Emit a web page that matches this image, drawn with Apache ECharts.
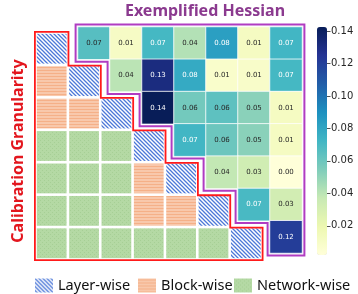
<!DOCTYPE html>
<html>
<head>
<meta charset="utf-8">
<script src="https://cdn.jsdelivr.net/npm/echarts@6/dist/echarts.min.js"></script>
<style>html,body{margin:0;padding:0;background:#fff}#main{width:358px;height:294px}</style>
</head>
<body>
<div id="main"></div>
<script>
// ---- data ----
const layers = ['L1', 'L2', 'L3', 'L4', 'L5', 'L6', 'L7'];
const granularityNames = ['Layer-wise', 'Block-wise', 'Network-wise'];
// lower triangle of the calibration-granularity matrix (L = layer, B = block, N = network)
const granularityRows = [
  'L',
  'BL',
  'BBL',
  'NNNL',
  'NNNBL',
  'NNNBBL',
  'NNNNNNL'
];
// upper triangle of the exemplified Hessian (row r starts at column r)
const hessianRows = [
  [0.066, 0.011, 0.071, 0.042, 0.083, 0.012, 0.072],
  [0.040, 0.131, 0.078, 0.008, 0.009, 0.071],
  [0.1425, 0.058, 0.064, 0.052, 0.012],
  [0.072, 0.060, 0.052, 0.012],
  [0.038, 0.033, 0.002],
  [0.070, 0.032],
  [0.121]
];
const colorbarTicks = [0.02, 0.04, 0.06, 0.08, 0.10, 0.12, 0.14];

// ---- styles ----
const YLGNBU = ['#ffffd9', '#edf8b1', '#c7e9b4', '#7fcdbb', '#41b6c4', '#1d91c0', '#225ea8', '#253494', '#081d58'];
function tile(w, h, draw) {
  const c = document.createElement('canvas');
  c.width = w; c.height = h;
  draw(c.getContext('2d'), w, h);
  return { image: c, repeat: 'repeat' };
}
const fills = {
  L: tile(4, 4, (g, w, h) => {
    g.fillStyle = '#fff'; g.fillRect(0, 0, w, h);
    g.strokeStyle = '#4c78d8'; g.lineWidth = 1.3; g.beginPath();
    for (let k = -1; k <= 1; k++) { g.moveTo(k * 4 - 1, -1); g.lineTo(k * 4 + 5, 5); }
    g.stroke();
  }),
  B: tile(4, 3, (g, w, h) => {
    g.fillStyle = '#fdf0e6'; g.fillRect(0, 0, w, h);
    g.strokeStyle = '#f5b088'; g.lineWidth = 1.1; g.beginPath();
    g.moveTo(-1, 2.5); g.lineTo(0, 0.5); g.lineTo(1, 2.5); g.lineTo(2, 0.5); g.lineTo(3, 2.5); g.lineTo(4, 0.5); g.lineTo(5, 2.5);
    g.stroke();
  }),
  N: tile(4, 4, (g, w, h) => {
    g.fillStyle = '#b4d9a4'; g.fillRect(0, 0, w, h);
    g.fillStyle = '#a6cf95'; g.fillRect(0, 0, 1, 1); g.fillRect(2, 2, 1, 1);
  })
};
const codes = ['L', 'B', 'N'];
const FONT = 'Noto Sans';

// ---- build series data ----
const patternData = { L: [], B: [], N: [] };
granularityRows.forEach((row, r) => {
  row.split('').forEach((code, c) => patternData[code].push([c, r]));
});
const heatData = [];
const allHeat = [];
hessianRows.forEach((row, r) => row.forEach((v, k) => {
  allHeat.push(v);
  heatData.push({ value: [r + k, r, v], label: { color: v > 0.068 ? '#ffffff' : '#262626' } });
}));
const vmin = Math.min(...allHeat), vmax = Math.max(...allHeat);

function cellRect(inset) {
  return function (params, api) {
    const c = api.coord([api.value(0), api.value(1)]);
    const s = api.size([1, 1]);
    return {
      type: 'rect',
      shape: { x: c[0] - s[0] / 2 + inset, y: c[1] - s[1] / 2 + inset, width: s[0] - 2 * inset, height: s[1] - 2 * inset },
      style: { fill: fills[codes[params.seriesIndex - 1]] }
    };
  };
}
function gridFns(api) {
  const o = api.coord([0, 0]);
  const s = api.size([1, 1]);
  return { X: c => o[0] - s[0] / 2 + c * s[0], Y: r => o[1] - s[1] / 2 + r * s[1] };
}
const n = layers.length;
function lowerOutline(params, api) {
  const { X, Y } = gridFns(api); const d = 0.6;
  const pts = [[X(0) - d, Y(0) - d]];
  for (let i = 0; i < n; i++) {
    const py = i === 0 ? Y(0) - d : Y(i) + d;
    pts.push([X(i + 1) + d, py]);
    pts.push([X(i + 1) + d, Y(i + 1) + d]);
  }
  pts.push([X(0) - d, Y(n) + d]);
  return { type: 'polygon', shape: { points: pts }, style: { fill: 'none', stroke: '#ff1a1a', lineWidth: 1.8 } };
}
function upperOutline(params, api) {
  const { X, Y } = gridFns(api); const d = 2.4;
  const pts = [[X(0) - d, Y(0) - d], [X(n) + d, Y(0) - d], [X(n) + d, Y(n) + d]];
  for (let i = n - 1; i >= 0; i--) {
    pts.push([X(i) - d, Y(i + 1) + d]);
    pts.push([X(i) - d, i === 0 ? Y(0) - d : Y(i) + d]);
  }
  return { type: 'polygon', shape: { points: pts }, style: { fill: 'none', stroke: '#b03cc2', lineWidth: 2 } };
}

const chart = echarts.init(document.getElementById('main'), null, { renderer: 'canvas' });
const legendBase = {
  orient: 'horizontal', top: 278, padding: 0, itemWidth: 18, itemHeight: 14, icon: 'rect',
  selectedMode: false, textStyle: { fontFamily: FONT, fontSize: 14.5, color: '#111' }
};
chart.setOption({
  animation: false,
  title: {
    text: 'Exemplified Hessian', left: 205, top: 3, textAlign: 'center', padding: 0,
    textStyle: { fontFamily: FONT, fontSize: 16, fontWeight: 'bold', color: '#8b3a8f' }
  },
  graphic: [{
    type: 'text', x: 18.5, y: 151, rotation: Math.PI / 2, silent: true,
    style: { text: 'Calibration Granularity', fill: '#e3161e', font: 'bold 16px "Noto Sans"', textAlign: 'center', textVerticalAlign: 'middle' }
  }],
  legend: [
    Object.assign({}, legendBase, { left: 35, data: [granularityNames[0]] }),
    Object.assign({}, legendBase, { left: 138, data: [granularityNames[1]] }),
    Object.assign({}, legendBase, { left: 234, data: [granularityNames[2]] })
  ],
  grid: [
    { left: 35.5, top: 32.5, width: 226.5, height: 227 },
    { left: 78, top: 27, width: 224, height: 226 },
    { left: 317, top: 27, width: 10, height: 228 }
  ],
  xAxis: [
    { gridIndex: 0, type: 'category', data: layers, show: false },
    { gridIndex: 1, type: 'category', data: layers, show: false },
    { gridIndex: 2, type: 'category', data: [''], show: false }
  ],
  yAxis: [
    { gridIndex: 0, type: 'category', data: layers, inverse: true, show: false },
    { gridIndex: 1, type: 'category', data: layers, inverse: true, show: false },
    {
      gridIndex: 2, type: 'value', min: vmin, max: vmax, position: 'right',
      axisLine: { show: false }, splitLine: { show: false },
      axisTick: { show: true, length: 3.5, customValues: colorbarTicks, lineStyle: { color: '#262626', width: 0.8 } },
      axisLabel: { customValues: colorbarTicks, formatter: v => v.toFixed(2), margin: 4, fontSize: 10, color: '#262626', fontFamily: 'DejaVu Sans' }
    }
  ],
  visualMap: {
    type: 'continuous', seriesIndex: 0, min: vmin, max: vmax, calculable: false, hoverLink: false,
    left: 317, top: 27, itemWidth: 10, itemHeight: 228, padding: 0, text: null,
    inRange: { color: YLGNBU }
  },
  series: [
    {
      type: 'heatmap', xAxisIndex: 1, yAxisIndex: 1, data: heatData, silent: true,
      itemStyle: { borderColor: '#ffffff', borderWidth: 0.8 },
      label: { show: true, formatter: p => p.value[2].toFixed(2), fontSize: 7, fontFamily: 'DejaVu Sans' },
      emphasis: { disabled: true }
    },
    { type: 'custom', name: granularityNames[0], xAxisIndex: 0, yAxisIndex: 0, data: patternData.L, renderItem: cellRect(1.3), itemStyle: { color: fills.L }, silent: true },
    { type: 'custom', name: granularityNames[1], xAxisIndex: 0, yAxisIndex: 0, data: patternData.B, renderItem: cellRect(1.3), itemStyle: { color: fills.B }, silent: true },
    { type: 'custom', name: granularityNames[2], xAxisIndex: 0, yAxisIndex: 0, data: patternData.N, renderItem: cellRect(1.3), itemStyle: { color: fills.N }, silent: true },
    { type: 'custom', xAxisIndex: 0, yAxisIndex: 0, data: [[0, 0]], renderItem: lowerOutline, silent: true, z: 10 },
    { type: 'custom', xAxisIndex: 1, yAxisIndex: 1, data: [[0, 0]], renderItem: upperOutline, silent: true, z: 10 }
  ]
});
</script>
</body>
</html>
